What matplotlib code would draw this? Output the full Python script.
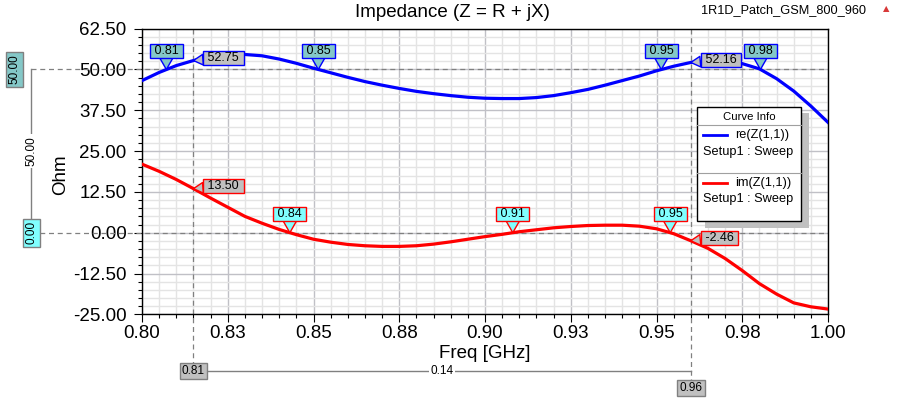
import numpy as np
import matplotlib
matplotlib.use("Agg")
import matplotlib.pyplot as plt
from matplotlib.ticker import MultipleLocator, FixedLocator, FixedFormatter
from matplotlib.transforms import Affine2D, IdentityTransform, blended_transform_factory
from matplotlib.patches import Rectangle
from matplotlib.lines import Line2D

W, H = 907, 398

# sweep data
freq = [0.800, 0.805, 0.810, 0.815, 0.820, 0.825, 0.830, 0.835, 0.840, 0.845,
        0.850, 0.855, 0.860, 0.865, 0.870, 0.875, 0.880, 0.885, 0.890, 0.895,
        0.900, 0.905, 0.910, 0.915, 0.920, 0.925, 0.930, 0.935, 0.940, 0.945,
        0.950, 0.955, 0.960, 0.965, 0.970, 0.975, 0.980, 0.985, 0.990, 0.995,
        1.000]
re_z = [46.6, 49.1, 51.2, 52.75, 53.8, 54.4, 54.6, 54.2, 53.2, 51.9,
        50.4, 49.0, 47.6, 46.3, 45.2, 44.2, 43.3, 42.6, 42.0, 41.5,
        41.2, 41.1, 41.1, 41.4, 42.0, 42.9, 43.9, 45.2, 46.6, 48.0,
        49.6, 51.0, 52.16, 52.6, 52.4, 51.8, 50.2, 47.2, 43.4, 38.8,
        33.8]
im_z = [21.0, 18.8, 16.3, 13.5, 10.6, 7.8, 5.0, 2.9, 1.0, -0.6,
        -2.0, -2.9, -3.6, -4.0, -4.2, -4.2, -4.0, -3.5, -2.8, -2.0,
        -1.2, -0.5, 0.3, 0.9, 1.5, 1.9, 2.2, 2.3, 2.3, 2.0,
        1.2, -0.3, -2.46, -4.8, -7.9, -11.6, -15.6, -18.8, -21.5, -22.7,
        -23.4]

xtick_vals = [0.800, 0.825, 0.850, 0.875, 0.900, 0.925, 0.950, 0.975, 1.000]
xtick_labels = ['0.80', '0.83', '0.85', '0.88', '0.90', '0.93', '0.95', '0.98', '1.00']
ytick_vals = [-25.0, -12.5, 0.0, 12.5, 25.0, 37.5, 50.0, 62.5]
ytick_labels = ['-25.00', '-12.50', '0.00', '12.50', '25.00', '37.50', '50.00', '62.50']

# markers where the curves cross the level cursors
re_marker_freq = [0.8071, 0.8514, 0.9514, 0.9803]
re_marker_text = ['0.81', '0.85', '0.95', '0.98']
im_marker_freq = [0.8431, 0.9081, 0.9540]
im_marker_text = ['0.84', '0.91', '0.95']

# x cursors and the values read at them
cursor_freq = [0.815, 0.96]
cursor_text = ['0.81', '0.96']
cursor_delta = '0.14'
re_cursor_val = [52.75, 52.16]
im_cursor_val = [13.50, -2.46]

# y cursors
level_vals = [50.0, 0.0]
level_text = ['50.00', '0.00']
level_delta = '50.00'

BLUE = '#0000ff'
RED = '#ff0000'
TEAL = '#84c8c8'
CYAN = '#80ffff'
GREY = '#c0c0c0'
LINE_GREY = '#808080'

plt.rcParams['font.family'] = ['Liberation Sans', 'DejaVu Sans']

fig = plt.figure(figsize=(W / 100, H / 100), dpi=100)
ax = fig.add_axes([142 / W, (H - 314.3) / H, 686 / W, 285.6 / H])

# pixel coords measured from top-left of the image
px = Affine2D().scale(1, -1).translate(0, H)

ax.plot(freq, re_z, color=BLUE, lw=2.3, zorder=3)
ax.plot(freq, im_z, color=RED, lw=2.3, zorder=3)

ax.set_xlim(0.8, 1.0)
ax.set_ylim(-25, 62.5)
ax.xaxis.set_major_locator(FixedLocator(xtick_vals))
ax.xaxis.set_major_formatter(FixedFormatter(xtick_labels))
ax.xaxis.set_minor_locator(MultipleLocator(0.005))
ax.yaxis.set_major_locator(FixedLocator(ytick_vals))
ax.yaxis.set_major_formatter(FixedFormatter(ytick_labels))
ax.yaxis.set_minor_locator(MultipleLocator(2.5))

ax.grid(which='major', color='#c0c0c6', lw=1.0)
ax.grid(which='minor', color='#e4e4e4', lw=1.0)
ax.set_axisbelow(True)
ax.tick_params(which='both', direction='out', top=False, right=False, width=0.8)
ax.tick_params(which='major', length=6, labelsize=13.5)
ax.tick_params(which='minor', length=3)
ax.tick_params(axis='x', which='major', pad=1.5)
ax.tick_params(axis='y', which='major', pad=5)
for s in ax.spines.values():
    s.set_linewidth(1.0)

ax.set_xlabel('Freq [GHz]', fontsize=13.5)
ax.set_ylabel('Ohm', fontsize=13.5)
ax.xaxis.set_label_coords((484.5 - 142) / 686, (314.3 - 353) / 285.6)
ax.xaxis.label.set_va('center')
ax.yaxis.set_label_coords((61 - 142) / 686, (314.3 - 175) / 285.6)
ax.yaxis.label.set_va('center')

# y cursors (left)
blend_y = blended_transform_factory(IdentityTransform(), ax.transData)
for lv in level_vals:
    ax.add_line(Line2D([31, 828.3], [lv, lv], transform=blend_y, color=LINE_GREY,
                       lw=0.9, ls=(0, (4, 3)), clip_on=False, zorder=2))
ax.add_line(Line2D([31, 31], level_vals, transform=blend_y, color=LINE_GREY,
                   lw=1.0, clip_on=False, zorder=2))
ax.text(31, np.mean(level_vals), level_delta, transform=blend_y, rotation=90,
        ha='center', va='center', fontsize=8.5, zorder=5,
        bbox=dict(boxstyle='square,pad=0.15', fc='white', ec='none'))
ax.text(14.5, level_vals[0], level_text[0], transform=blend_y, rotation=90,
        ha='center', va='center', fontsize=8.5, zorder=5,
        bbox=dict(boxstyle='square,pad=0.2', fc=TEAL, ec=LINE_GREY, lw=1))
ax.text(31.5, level_vals[1], level_text[1], transform=blend_y, rotation=90,
        ha='center', va='center', fontsize=8.5, zorder=5,
        bbox=dict(boxstyle='square,pad=0.2', fc=CYAN, ec=LINE_GREY, lw=1))

# x cursors (bottom)
blend_x = blended_transform_factory(ax.transData, px)
cursor_box_y = [371, 388]
for f, t, by in zip(cursor_freq, cursor_text, cursor_box_y):
    ax.add_line(Line2D([f, f], [28.7, by], transform=blend_x, color=LINE_GREY,
                       lw=0.9, ls=(0, (4, 3)), clip_on=False, zorder=2))
    ax.text(f, by, t, transform=blend_x, ha='center', va='center', fontsize=8.5,
            zorder=5, bbox=dict(boxstyle='square,pad=0.2', fc=GREY, ec=LINE_GREY, lw=1))
ax.add_line(Line2D(cursor_freq, [371, 371], transform=blend_x, color=LINE_GREY,
                   lw=1.0, clip_on=False, zorder=2))
ax.text(np.mean(cursor_freq), 371, cursor_delta, transform=blend_x, ha='center',
        va='center', fontsize=8.5, zorder=5,
        bbox=dict(boxstyle='square,pad=0.15', fc='white', ec='none'))


def flag(x, y, text, face, edge):
    ax.annotate(' ' + text + ' ', xy=(x, y), xytext=(0, 19), textcoords='offset pixels',
                ha='center', va='center', fontsize=9, zorder=6,
                bbox=dict(boxstyle='square,pad=0.08', fc=face, ec=edge, lw=1),
                arrowprops=dict(arrowstyle='wedge,tail_width=1.05,shrink_factor=0.5',
                                fc=face, ec=edge, lw=1, shrinkA=0, shrinkB=0))


def value_tag(x, y, text, edge):
    ax.annotate(' ' + text + ' ', xy=(x, y), xytext=(11, 2.5), textcoords='offset pixels',
                ha='left', va='center', fontsize=9, zorder=6,
                bbox=dict(boxstyle='square,pad=0.08', fc=GREY, ec=edge, lw=1),
                arrowprops=dict(arrowstyle='wedge,tail_width=0.85,shrink_factor=0.5',
                                fc=GREY, ec=edge, lw=1, shrinkA=0, shrinkB=0))


for f, t in zip(re_marker_freq, re_marker_text):
    flag(f, level_vals[0], t, TEAL, BLUE)
for f, t in zip(im_marker_freq, im_marker_text):
    flag(f, level_vals[1], t, CYAN, RED)
for f, v in zip(cursor_freq, re_cursor_val):
    value_tag(f, v, f'{v:.2f}', BLUE)
for f, v in zip(cursor_freq, im_cursor_val):
    value_tag(f, v, f'{v:.2f}', RED)

# titles
fig.text(452.5, 12.5, 'Impedance (Z = R + jX)', transform=px, ha='center',
         va='center', fontsize=13.5)
fig.text(784, 10, '1R1D_Patch_GSM_800_960', transform=px, ha='center',
         va='center', fontsize=9.2)
fig.text(886, 9, '\u25b2', transform=px, ha='center', va='center', fontsize=6,
         color='#d83838', family='DejaVu Sans')

# curve info box
fig.add_artist(Rectangle((705, 113), 104, 115, transform=px, fc='#c0c0c0', ec='none', zorder=7))
fig.add_artist(Rectangle((697, 107), 104, 114, transform=px, fc='white', ec='black', lw=1, zorder=8))
fig.add_artist(Line2D([697, 801], [125, 125], transform=px, color='#a0a0a0', lw=0.8, zorder=9))
fig.add_artist(Line2D([697, 801], [173, 173], transform=px, color='#a0a0a0', lw=0.8, zorder=9))
fig.text(749, 117, 'Curve Info', transform=px, ha='center', va='center', fontsize=8.2, zorder=9)
legend_rows = [('re(Z(1,1))', BLUE, 135, 152), ('im(Z(1,1))', RED, 183, 199)]
for name, col, y1, y2 in legend_rows:
    fig.add_artist(Line2D([703, 727], [y1, y1], transform=px, color=col, lw=2, zorder=9))
    fig.text(735, y1, name, transform=px, ha='left', va='center', fontsize=9.2, zorder=9)
    fig.text(703, y2, 'Setup1 : Sweep', transform=px, ha='left', va='center',
             fontsize=9.2, zorder=9)

fig.savefig('out.png', dpi=100)
